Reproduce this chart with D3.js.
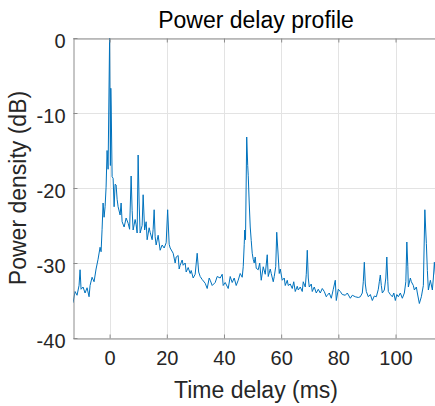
<!DOCTYPE html>
<html>
<head>
<meta charset="utf-8">
<script src="https://cdn.jsdelivr.net/npm/d3@7"></script>
<style>
    body { margin: 0; background: #fff; }
    svg { display: block; font-family: Arial, "Liberation Sans", sans-serif; }
</style>
</head>
<body>
<div id="chart"></div>
<script>
// Power delay profile
const delayMs = [
    -12.78, -12.08, -11.38, -10.68, -10.33, -9.98, -9.28, -8.58, -7.88, -7.18,
    -6.83, -6.13, -5.43, -4.73, -4.03, -3.33, -2.98, -2.63, -2.28, -1.93,
    -1.58, -1.23, -0.88, -0.53, 0, 0.28, 0.42, 0.56, 0.88, 1.23,
    1.58, 1.93, 2.28, 2.63, 2.98, 3.68, 4.03, 4.38, 5.08, 5.78,
    6.48, 7.0, 7.53, 7.88, 8.23, 8.93, 9.28, 9.63, 9.98, 10.33,
    10.68, 11.38, 11.73, 12.25, 12.78, 13.13, 13.83, 14.18, 14.88, 15.23,
    15.58, 15.93, 16.28, 16.98, 17.68, 18.38, 19.08, 19.78, 20.3, 20.83,
    21.18, 22.23, 22.93, 23.28, 23.98, 24.33, 24.68, 25.38, 25.73, 26.43,
    26.78, 27.48, 28.18, 28.53, 29.23, 29.93, 30.63, 31.15, 31.68, 32.38,
    33.43, 34.13, 34.83, 35.18, 35.88, 36.93, 37.63, 38.68, 39.38, 39.73,
    40.43, 41.48, 42.18, 42.88, 43.58, 44.28, 44.98, 45.68, 46.38, 46.73,
    47.08, 47.25, 47.53, 47.95, 48.3, 48.48, 48.83, 49.18, 49.53, 49.88,
    50.23, 50.58, 50.93, 51.28, 51.98, 52.5, 53.03, 53.73, 54.43, 55.13,
    55.48, 56.18, 56.53, 57.23, 57.58, 58.1, 58.45, 58.8, 59.33, 59.68,
    60.38, 61.08, 61.43, 62.13, 62.48, 63.18, 63.88, 64.4, 64.93, 65.63,
    65.98, 66.68, 67.38, 67.73, 68.43, 68.78, 69.13, 69.48, 69.83, 70.53,
    70.88, 71.58, 72.28, 72.98, 73.68, 74.38, 75.08, 75.78, 76.13, 76.83,
    77.53, 78.23, 78.93, 79.28, 79.98, 80.68, 81.38, 82.43, 83.13, 84.18,
    84.88, 85.93, 86.98, 87.68, 88.38, 88.73, 89.08, 89.43, 89.78, 90.48,
    91.18, 91.88, 92.58, 93.28, 93.98, 94.33, 94.68, 95.03, 95.38, 96.08,
    96.6, 96.95, 97.3, 97.48, 98.18, 98.88, 99.4, 99.93, 100.45, 100.98,
    101.68, 102.38, 103.08, 103.6, 103.95, 104.3, 104.48, 105.18, 105.53, 106.23,
    106.58, 107.28, 107.63, 108.33, 109.03, 109.73, 110.25, 110.6, 110.78, 111.13,
    111.48, 112.18, 112.88, 113.23, 113.58, 113.93, 114.6, 115.2
];
const powerDb = [
    -35.3, -33.8, -34.3, -33.0, -30.9, -33.5, -33.2, -34.0, -33.3, -34.5,
    -33.0, -31.9, -32.5, -30.8, -29.5, -27.9, -28.5, -25.5, -22.0, -23.9,
    -22.5, -19.9, -15.0, -17.5, 0, -17.0, -6.7, -9.2, -18.5, -18.7,
    -22.5, -19.5, -19.6, -21.5, -22.5, -23.6, -22.0, -24.5, -25.2, -24.0,
    -24.7, -25.5, -18.4, -23.0, -25.6, -24.2, -24.9, -26.0, -15.6, -22.0,
    -26.0, -25.0, -20.9, -25.6, -24.5, -26.9, -25.3, -25.9, -26.9, -25.5,
    -22.9, -26.5, -27.6, -26.3, -28.3, -27.6, -28.0, -27.3, -22.9, -27.5,
    -28.0, -28.7, -30.0, -29.2, -29.0, -30.8, -30.3, -29.6, -30.3, -30.0,
    -31.2, -30.6, -31.4, -31.0, -32.0, -31.5, -28.7, -31.2, -31.8, -32.2,
    -32.7, -33.4, -32.0, -32.3, -33.0, -32.6, -31.8, -32.0, -31.5, -33.0,
    -32.6, -33.4, -31.8, -32.6, -32.0, -33.0, -32.3, -31.4, -31.9, -30.5,
    -27.5, -25.6, -26.9, -13.2, -17.0, -18.3, -22.0, -25.2, -27.0, -28.7,
    -29.5, -30.0, -29.2, -30.7, -30.9, -30.0, -32.3, -30.5, -31.5, -28.9,
    -31.8, -30.8, -31.4, -32.5, -31.8, -30.5, -25.9, -28.0, -31.4, -30.8,
    -32.3, -32.0, -33.0, -32.3, -33.0, -32.8, -33.4, -32.5, -33.8, -33.1,
    -33.6, -33.2, -33.8, -32.5, -33.2, -31.5, -28.3, -32.0, -33.2, -32.8,
    -33.8, -33.2, -34.0, -33.5, -34.0, -33.4, -33.8, -34.5, -34.3, -34.0,
    -34.7, -33.5, -32.3, -35.0, -33.5, -33.8, -34.2, -34.3, -34.0, -34.7,
    -34.3, -34.5, -34.6, -34.5, -34.0, -32.5, -29.9, -32.8, -33.8, -34.5,
    -34.2, -35.0, -34.4, -34.5, -33.5, -32.5, -31.6, -33.0, -34.0, -33.6,
    -32.0, -29.2, -32.5, -33.8, -34.2, -34.5, -34.0, -35.0, -34.2, -34.5,
    -34.0, -34.7, -34.0, -32.5, -27.2, -30.5, -33.2, -32.0, -32.5, -33.0,
    -33.6, -33.2, -34.0, -35.4, -34.5, -33.0, -22.9, -26.0, -27.4, -31.0,
    -33.6, -32.3, -33.6, -32.0, -29.9, -31.5, -33.0, -32.5
];
const xTicks = [0, 20, 40, 60, 80, 100];
const yTicks = [-40, -30, -20, -10, 0];
const xDomain = [-12.8, 115.2];
const yDomain = [-40, 0];

const width = 435;
const height = 406;
const margin = { top: 38, right: -4, bottom: 68, left: 73 };

const svg = d3.select('#chart').append('svg')
    .attr('width', width)
    .attr('height', height);

const x = d3.scaleLinear().domain(xDomain).range([margin.left, width - margin.right]);
const y = d3.scaleLinear().domain(yDomain).range([height - margin.bottom, margin.top]);

const plotW = width - margin.right - margin.left;
const plotH = height - margin.bottom - margin.top;

svg.append('clipPath').attr('id', 'plot-clip')
    .append('rect')
    .attr('x', margin.left).attr('y', margin.top)
    .attr('width', plotW).attr('height', plotH);

// Grid
const grid = svg.append('g').attr('stroke', '#e3e3e3').attr('stroke-width', 1);
xTicks.forEach(t => {
    grid.append('line')
        .attr('x1', Math.round(x(t)) + 0.5).attr('x2', Math.round(x(t)) + 0.5)
        .attr('y1', margin.top).attr('y2', margin.top + plotH);
});
yTicks.forEach(t => {
    grid.append('line')
        .attr('x1', margin.left).attr('x2', margin.left + plotW)
        .attr('y1', Math.round(y(t)) + 0.5).attr('y2', Math.round(y(t)) + 0.5);
});

// Data line
const points = delayMs.map((d, i) => [d, powerDb[i]]);
const line = d3.line().x(d => x(d[0])).y(d => y(d[1]));

svg.append('path')
    .datum(points)
    .attr('clip-path', 'url(#plot-clip)')
    .attr('fill', 'none')
    .attr('stroke', '#0072BD')
    .attr('stroke-width', 1)
    .attr('stroke-linejoin', 'round')
    .attr('d', line);

// Axes (MATLAB style box, ticks pointing inwards)
const axisColor = '#8c8c8c';
const plainNum = d => String(d); // keep ASCII hyphen for negatives
const xAxis = d3.axisBottom(x).tickValues(xTicks).tickSizeInner(-4).tickSizeOuter(0).tickPadding(12).tickFormat(plainNum);
const xTop = d3.axisTop(x).tickValues(xTicks).tickSizeInner(-4).tickSizeOuter(0).tickFormat('');
const yAxis = d3.axisLeft(y).tickValues(yTicks).tickSizeInner(-4).tickSizeOuter(0).tickPadding(8).tickFormat(plainNum);

const gx = svg.append('g')
    .attr('transform', `translate(0,${Math.round(y(-40)) + 0.5})`)
    .call(xAxis);
const gt = svg.append('g')
    .attr('transform', `translate(0,${Math.round(y(0)) + 0.5})`)
    .call(xTop);
const gy = svg.append('g')
    .attr('transform', `translate(${margin.left + 0.5},0)`)
    .call(yAxis);

[gx, gt, gy].forEach(g => {
    g.selectAll('path, line').attr('stroke', axisColor);
    g.selectAll('text')
        .attr('fill', '#262626')
        .attr('font-size', 20)
        .attr('font-family', 'Arial, "Liberation Sans", sans-serif');
});
gx.selectAll('text').attr('dy', '0.71em');
gy.selectAll('text').attr('dy', '0.45em');

// Titles
svg.append('text')
    .attr('x', margin.left + plotW / 2)
    .attr('y', 28)
    .attr('text-anchor', 'middle')
    .attr('font-size', 23)
    .attr('fill', '#000')
    .text('Power delay profile');

svg.append('text')
    .attr('x', margin.left + plotW / 2)
    .attr('y', 398)
    .attr('text-anchor', 'middle')
    .attr('font-size', 23)
    .attr('fill', '#262626')
    .text('Time delay (ms)');

svg.append('text')
    .attr('transform', `translate(26,${margin.top + plotH / 2}) rotate(-90)`)
    .attr('text-anchor', 'middle')
    .attr('font-size', 23)
    .attr('fill', '#262626')
    .text('Power density (dB)');
</script>
</body>
</html>
